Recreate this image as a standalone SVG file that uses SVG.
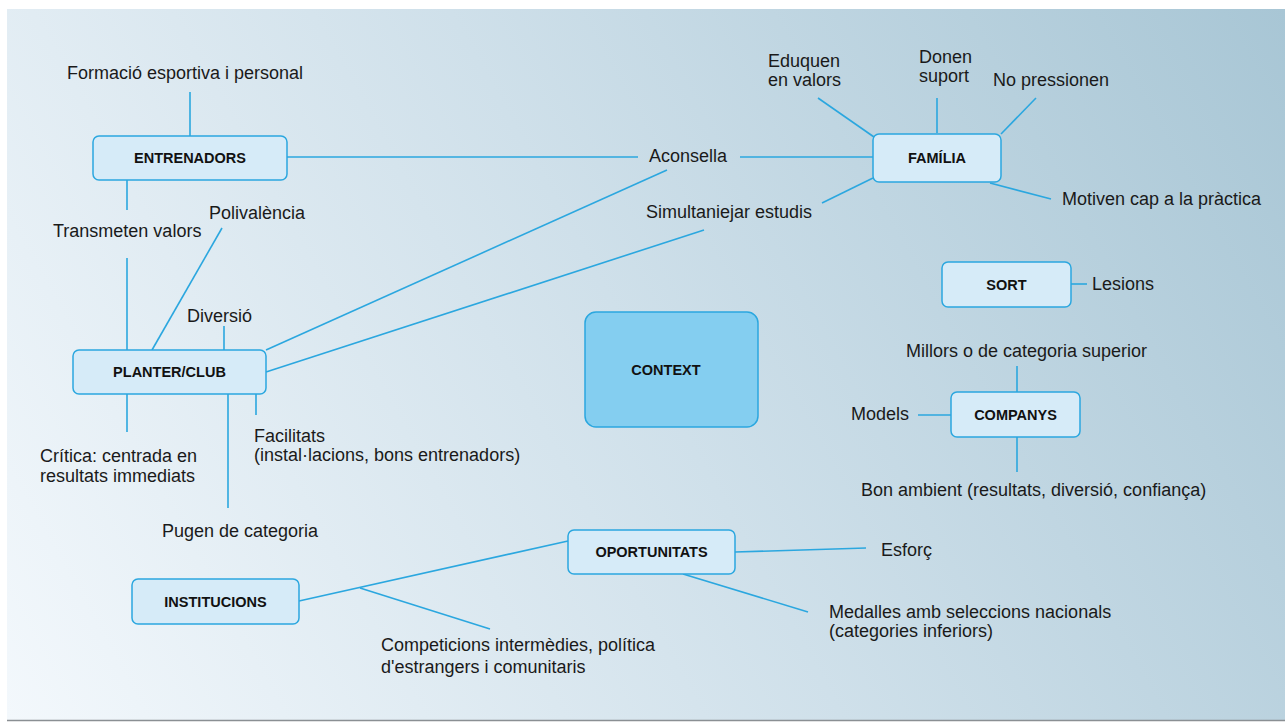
<svg xmlns="http://www.w3.org/2000/svg" width="1285" height="723" viewBox="0 0 1285 723">
<defs>
<linearGradient id="bg" gradientUnits="userSpaceOnUse" x1="7" y1="720" x2="1285" y2="9">
<stop offset="0" stop-color="#f3f8fc"/>
<stop offset="0.5" stop-color="#cfe0ea"/>
<stop offset="1" stop-color="#a8c6d5"/>
</linearGradient>
<style>
.box{fill:#d6ebf8;stroke:#2ba7df;stroke-width:1.5}
.ctx{fill:#84cef0;stroke:#2ba7df;stroke-width:1.5}
.bl{font-family:"Liberation Sans",Arial,sans-serif;font-weight:bold;font-size:14.5px;fill:#111;text-anchor:middle}
.t{font-family:"Liberation Sans",Arial,sans-serif;font-size:18px;fill:#1a1a1a}
.c line{stroke:#2ba7df;stroke-width:1.6;fill:none}
</style>
</defs>
<rect x="0" y="0" width="1285" height="723" fill="#ffffff"/>
<rect x="7" y="9" width="1278" height="711" fill="url(#bg)"/>
<line x1="7" y1="720.5" x2="1285" y2="720.5" stroke="#8a8f93" stroke-width="1.5"/>

<g id="connectors" class="c">
<line x1="190" y1="92" x2="190" y2="136"/>
<line x1="287" y1="157" x2="638" y2="157"/>
<line x1="740" y1="157" x2="873" y2="157"/>
<line x1="127" y1="180" x2="127" y2="210"/>
<line x1="127" y1="258" x2="127" y2="350"/>
<line x1="222" y1="228" x2="152" y2="350"/>
<line x1="224" y1="326" x2="224" y2="350"/>
<line x1="266" y1="350" x2="667" y2="170"/>
<line x1="266" y1="372" x2="704" y2="230"/>
<line x1="822" y1="203" x2="873" y2="178"/>
<line x1="127" y1="394" x2="127" y2="432"/>
<line x1="228" y1="394" x2="228" y2="508"/>
<line x1="256" y1="394" x2="256" y2="415"/>
<line x1="818" y1="98" x2="874" y2="137"/>
<line x1="937" y1="98" x2="937" y2="133"/>
<line x1="1036" y1="98" x2="1001" y2="134"/>
<line x1="990" y1="183" x2="1051" y2="199"/>
<line x1="1071" y1="284" x2="1087" y2="284"/>
<line x1="1017" y1="366" x2="1017" y2="392"/>
<line x1="918" y1="415" x2="951" y2="415"/>
<line x1="1017" y1="437" x2="1017" y2="472"/>
<line x1="299" y1="601" x2="568" y2="541"/>
<line x1="360" y1="588" x2="490" y2="629"/>
<line x1="735" y1="552" x2="866" y2="548"/>
<line x1="683" y1="574" x2="808" y2="612"/>
</g>

<g id="entrenadors">
<rect class="box" x="93" y="136" width="194" height="44" rx="6"/>
<text class="bl" x="190" y="163">ENTRENADORS</text>
</g>
<g id="familia">
<rect class="box" x="873" y="134" width="128" height="48" rx="6"/>
<text class="bl" x="937" y="163">FAMÍLIA</text>
</g>
<g id="sort">
<rect class="box" x="942" y="262" width="129" height="45" rx="6"/>
<text class="bl" x="1006.5" y="290">SORT</text>
</g>
<g id="companys">
<rect class="box" x="951" y="392" width="129" height="45" rx="6"/>
<text class="bl" x="1015.5" y="420">COMPANYS</text>
</g>
<g id="context">
<rect class="ctx" x="585" y="312" width="173" height="115" rx="11"/>
<text class="bl" x="666" y="375">CONTEXT</text>
</g>
<g id="planter">
<rect class="box" x="73" y="350" width="193" height="44" rx="6"/>
<text class="bl" x="169.5" y="377">PLANTER/CLUB</text>
</g>
<g id="institucions">
<rect class="box" x="132" y="579" width="167" height="45" rx="6"/>
<text class="bl" x="215.5" y="607">INSTITUCIONS</text>
</g>
<g id="oportunitats">
<rect class="box" x="568" y="530" width="167" height="44" rx="6"/>
<text class="bl" x="651.5" y="557">OPORTUNITATS</text>
</g>

<g id="labels">
<text class="t" x="67" y="79">Formació esportiva i personal</text>
<text class="t" x="649" y="162">Aconsella</text>
<text class="t" x="53" y="237">Transmeten valors</text>
<text class="t" x="209" y="219">Polivalència</text>
<text class="t" x="187" y="322">Diversió</text>
<text class="t" x="646" y="218">Simultaniejar estudis</text>
<text class="t" x="40" y="462">Crítica: centrada en</text>
<text class="t" x="40" y="482">resultats immediats</text>
<text class="t" x="254" y="442">Facilitats</text>
<text class="t" x="254" y="461">(instal·lacions, bons entrenadors)</text>
<text class="t" x="162" y="537">Pugen de categoria</text>
<text class="t" x="768" y="67">Eduquen</text>
<text class="t" x="768" y="86">en valors</text>
<text class="t" x="919" y="63">Donen</text>
<text class="t" x="919" y="82">suport</text>
<text class="t" x="993" y="86">No pressionen</text>
<text class="t" x="1062" y="205">Motiven cap a la pràctica</text>
<text class="t" x="1092" y="290">Lesions</text>
<text class="t" x="906" y="357">Millors o de categoria superior</text>
<text class="t" x="851" y="420">Models</text>
<text class="t" x="861" y="496">Bon ambient (resultats, diversió, confiança)</text>
<text class="t" x="881" y="556">Esforç</text>
<text class="t" x="829" y="618">Medalles amb seleccions nacionals</text>
<text class="t" x="829" y="637">(categories inferiors)</text>
<text class="t" x="381" y="651">Competicions intermèdies, política</text>
<text class="t" x="381" y="673">d'estrangers i comunitaris</text>
</g>
</svg>
